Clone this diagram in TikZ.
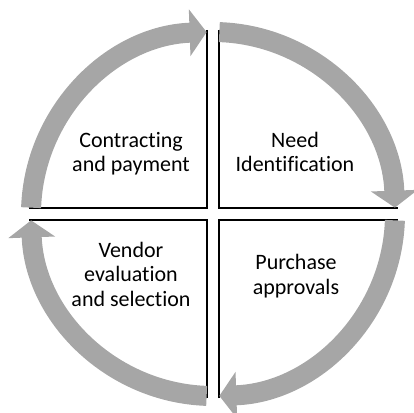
\documentclass[tikz,border=0pt]{standalone}
\usepackage{fontspec}
\setmainfont[Ligatures=NoCommon]{Carlito}
\usetikzlibrary{arrows.meta}
\definecolor{cycleGray}{HTML}{A6A6A6}

\begin{document}
\begin{tikzpicture}[
    x=1pt, y=1pt,
    phase/.style={
        align=center,
        font=\fontsize{22pt}{24.5pt}\selectfont,
        anchor=base
    },
    ring/.style={
        line width=20pt,
        draw=cycleGray,
        -{Triangle[length=17pt,width=46pt]}
    },
    divider/.style={
        draw=black,
        line width=1.2pt
    }
]
\useasboundingbox (-213,-198) rectangle (201,214);

% quadrant dividers
\draw[divider] (-6,184) -- (-6,6) -- (-184,6);
\draw[divider] (6,184) -- (6,6) -- (185,6);
\draw[divider] (6,-184) -- (6,-6) -- (185,-6);
\draw[divider] (-6,-184) -- (-6,-6) -- (-184,-6);

% cycle arrows, clockwise
\draw[ring] (88:182) arc[start angle=88, end angle=2, radius=182];
\draw[ring] (-2:182) arc[start angle=-2, end angle=-88, radius=182];
\draw[ring] (-92:182) arc[start angle=-92, end angle=-178, radius=182];
\draw[ring] (178:182) arc[start angle=178, end angle=92, radius=182];

% phases (anchored on the last baseline)
\node[phase] (need) at (82,42) {Need\\Identification};
\node[phase] (approve) at (83,-80) {Purchase\\approvals};
\node[phase] (vendor) at (-82,-92) {Vendor\\evaluation\\and selection};
\node[phase] (contract) at (-82,42) {Contracting\\and payment};
\end{tikzpicture}
\end{document}
